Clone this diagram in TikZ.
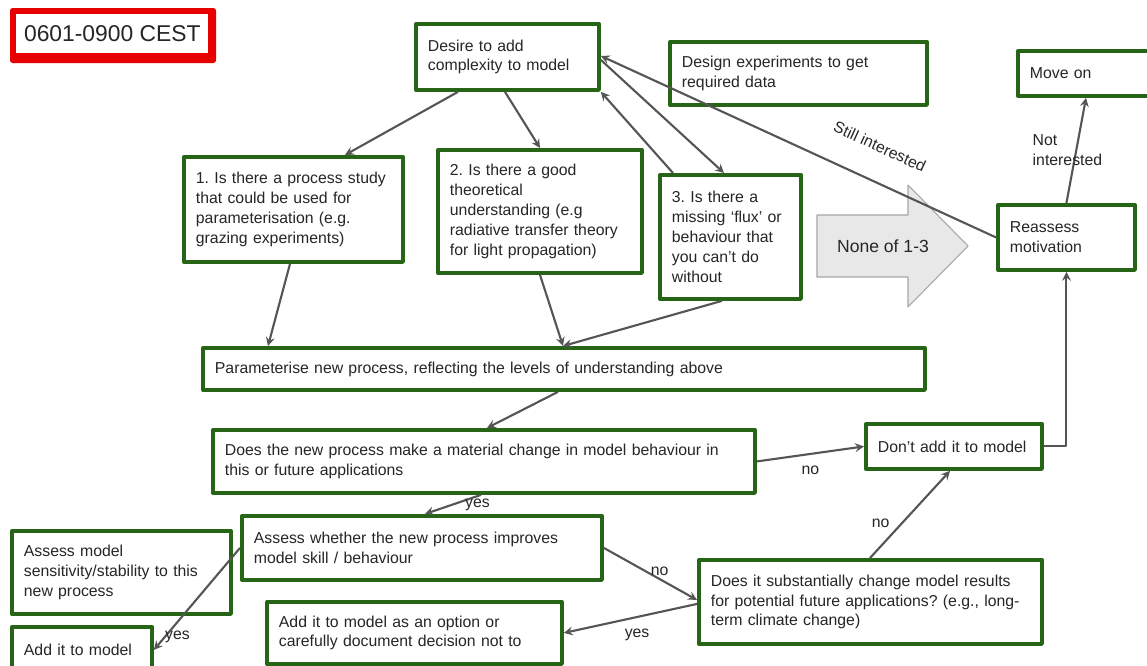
\documentclass[tikz,border=0pt]{standalone}
\usepackage{fontspec}
\setmainfont{Liberation Sans}
\usetikzlibrary{arrows}

\definecolor{boxgreen}{RGB}{38,100,22}
\definecolor{linegray}{RGB}{85,85,85}
\definecolor{titlered}{RGB}{230,0,0}
\definecolor{arrowgray}{RGB}{232,232,232}

\tikzset{
  box/.style={draw=boxgreen, line width=2.2pt, fill=white, anchor=north west, align=left,
    inner xsep=0.24cm, inner ysep=0pt, text=black!85},
  sz/.style 2 args={minimum width=#1*0.02cm, text width=#1*0.02cm-0.48cm, minimum height=#2*0.02cm},
  flow/.style={->, draw=linegray, line width=1.2pt},
  lab/.style={text=black!85, inner sep=1.5pt},
}
\frenchspacing

\begin{document}
\begin{tikzpicture}[x=0.02cm,y=-0.02cm,>=stealth,line join=round,font=\fontsize{9}{11.3}\selectfont]
	\clip (0,0) rectangle (1147,666);
	\fill[white] (0,0) rectangle (1147,666);
	% time slot
	\fill[titlered, rounded corners=1.5pt] (10,8) rectangle (216,63);
	\node[fill=white, anchor=north west, minimum width=3.84cm, minimum height=0.78cm, inner sep=0pt,
		font=\fontsize{13}{15}\selectfont, text=black!85] (title) at (16,14) {0601-0900 CEST};
	% big arrow
	\draw[fill=arrowgray, draw=gray!70, line width=0.6pt] (817,215) -- (908,215) -- (908,185) -- (968,246)
		-- (908,307) -- (908,277) -- (817,277) -- cycle;
	\node[font=\fontsize{10}{12}\selectfont, text=black!85] (none) at (883,246) {None of 1-3};
	% boxes
	\node[box, sz={183}{66}] (desire) at (414,22) {Desire to add\\complexity to model};
	\node[box, sz={257}{63}] (design) at (668,40) {Design experiments to get\\required data};
	\node[box, sz={140}{45}] (moveon) at (1016,49) {Move on};
	\node[box, sz={219}{105}] (qone) at (182,155) {1. Is there a process study\\that could be used for\\parameterisation (e.g.\\grazing experiments)};
	\node[box, sz={204}{123}] (qtwo) at (436,148) {2. Is there a good\\theoretical\\understanding (e.g\\radiative transfer theory\\for light propagation)};
	\node[box, sz={141}{124}] (qthree) at (658,173) {3. Is there a\\missing ‘flux’ or\\behaviour that\\you can't do\\without};
	\node[box, sz={137}{65}] (reassess) at (996,203) {Reassess\\motivation};
	\node[box, sz={722}{42}] (param) at (201,346) {Parameterise new process, reflecting the levels of understanding above};
	\node[box, sz={542}{63}] (change) at (211,428) {Does the new process make a material change in model behaviour in\\this or future applications};
	\node[box, sz={176}{45}] (dontadd) at (864,422) {Don't add it to model};
	\node[box, sz={360}{64}] (skill) at (240,514) {Assess whether the new process improves\\model skill / behaviour};
	\node[box, sz={219}{83}] (sensit) at (10,529) {Assess model\\sensitivity/stability to this\\new process};
	\node[box, sz={140}{46}] (addit) at (10,625) {Add it to model};
	\node[box, sz={295}{62}] (option) at (265,600) {Add it to model as an option or\\carefully document decision not to};
	\node[box, sz={343}{84}] (future) at (697,558) {Does it substantially change model results\\for potential future applications? (e.g., long-\\term climate change)};
	% connectors
	\draw[flow] ([shift={(44,0)}]desire.south west) -- ([shift={(163,0)}]qone.north west);
	\draw[flow] ([shift={(91,0)}]desire.south west) -- ([shift={(104,0)}]qtwo.north west);
	\draw[flow] ([shift={(15,0)}]qthree.north west) -- (desire.south east);
	\draw[flow] ([shift={(0,3)}]desire.east) -- ([shift={(66,0)}]qthree.north west);
	\draw[flow] (reassess.west) -- node[lab, sloped, above=14pt, pos=0.33] {Still interested} ([shift={(0,-1)}]desire.east);
	\draw[flow] (reassess.north) -- node[lab, align=left, xshift=-5pt] {Not\\interested} ([shift={(70,0)}]moveon.south west);
	\draw[flow] ([shift={(108,0)}]qone.south west) -- ([shift={(67,0)}]param.north west);
	\draw[flow] ([shift={(104,0)}]qtwo.south west) -- ([shift={(362,0)}]param.north west);
	\draw[flow] ([shift={(64,0)}]qthree.south west) -- ([shift={(362,0)}]param.north west);
	\draw[flow] ([shift={(357,0)}]param.south west) -- ([shift={(276,0)}]change.north west);
	\draw[flow] (change.east) -- node[lab, below=5pt] {no} (dontadd.west);
	\draw[flow] ([shift={(173,0)}]future.north west) -- node[lab, left=5pt, pos=0.4] {no} ([shift={(86,0)}]dontadd.south west);
	\draw[flow] (dontadd.east) -| (reassess.south);
	\draw[flow] ([shift={(270,0)}]change.south west) -- node[lab, at start, below=0pt, xshift=-2pt] {yes} ([shift={(185,0)}]skill.north west);
	\draw[flow] (skill.east) -- node[lab, pos=0.6, above=0pt] {no} ([shift={(0,-2)}]future.west);
	\draw[flow] ([shift={(0,2)}]future.west) -- node[lab, pos=0.45, below=5pt] {yes} (option.east);
	\draw[flow] (skill.west) -- node[lab, pos=0.87, right=-2pt] {yes} (addit.east);
\end{tikzpicture}
\end{document}
